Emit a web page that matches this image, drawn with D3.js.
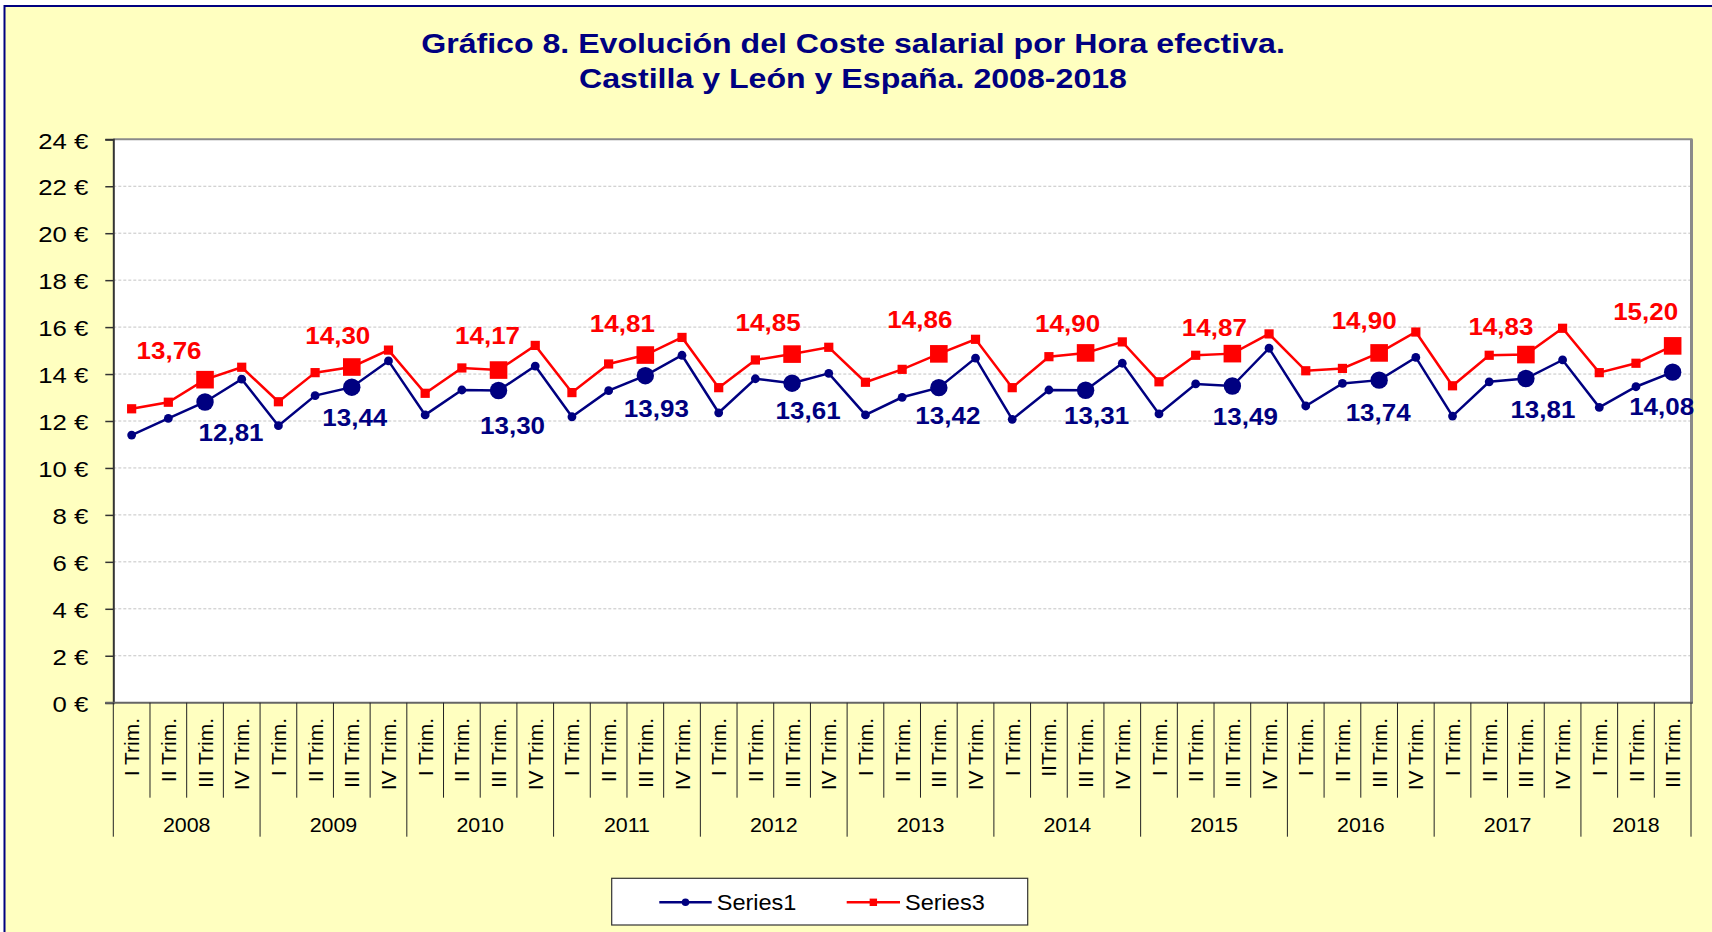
<!DOCTYPE html>
<html>
<head>
<meta charset="utf-8">
<script src="https://cdn.jsdelivr.net/npm/d3@7"></script>
<style>
  html, body { margin: 0; padding: 0; background: #ffffff; }
  svg { display: block; font-family: "Liberation Sans", Arial, sans-serif; }
</style>
</head>
<body>
<svg id="chart" width="1712" height="932"></svg>
<script>
// ---------------- DATA ----------------
const titleLines = [
  "Gráfico 8. Evolución del Coste salarial por Hora efectiva.",
  "Castilla y León y España. 2008-2018"
];
const years = ["2008", "2009", "2010", "2011", "2012", "2013", "2014", "2015", "2016", "2017", "2018"];
const quarterLabels = [
  "I Trim.", "II Trim.", "III Trim.", "IV Trim.",
  "I Trim.", "II Trim.", "III Trim.", "IV Trim.",
  "I Trim.", "II Trim.", "III Trim.", "IV Trim.",
  "I Trim.", "II Trim.", "III Trim.", "IV Trim.",
  "I Trim.", "II Trim.", "III Trim.", "IV Trim.",
  "I Trim.", "II Trim.", "III Trim.", "IV Trim.",
  "I Trim.", "IITrim.", "III Trim.", "IV Trim.",
  "I Trim.", "II Trim.", "III Trim.", "IV Trim.",
  "I Trim.", "II Trim.", "III Trim.", "IV Trim.",
  "I Trim.", "II Trim.", "III Trim.", "IV Trim.",
  "I Trim.", "II Trim.", "III Trim."
];
const quartersPerYear = [4, 4, 4, 4, 4, 4, 4, 4, 4, 4, 3];
const seriesNames = ["Series1", "Series3"];
const series1 = [
  11.40, 12.11, 12.81, 13.78,
  11.80, 13.08, 13.44, 14.56,
  12.26, 13.32, 13.30, 14.34,
  12.18, 13.29, 13.93, 14.80,
  12.35, 13.80, 13.61, 14.03,
  12.26, 13.01, 13.42, 14.68,
  12.07, 13.32, 13.31, 14.46,
  12.30, 13.58, 13.49, 15.10,
  12.64, 13.60, 13.74, 14.71,
  12.21, 13.67, 13.81, 14.60,
  12.58, 13.46, 14.08
];
const series3 = [
  12.52, 12.80, 13.76, 14.29,
  12.82, 14.06, 14.30, 15.02,
  13.18, 14.26, 14.17, 15.22,
  13.21, 14.43, 14.81, 15.56,
  13.42, 14.60, 14.85, 15.14,
  13.65, 14.20, 14.86, 15.48,
  13.42, 14.74, 14.90, 15.37,
  13.67, 14.80, 14.87, 15.71,
  14.14, 14.24, 14.90, 15.79,
  13.50, 14.80, 14.83, 15.95,
  14.06, 14.46, 15.20
];
const yTicks = [0, 2, 4, 6, 8, 10, 12, 14, 16, 18, 20, 22, 24];
const highlightQuarter = 2; // III Trim. points are highlighted and labelled

// ---------------- LAYOUT ----------------
const W = 1712, H = 932;
const plot = { left: 113.3, right: 1691, top: 139.3, bottom: 702.7 };
const NAVY = "#000080", RED = "#ff0000", BG = "#ffffc0";
const FONT = '"Liberation Sans", Arial, sans-serif';
// manual nudges of the data labels (pixels, relative to their point), one per labelled year
const redLabelNudge = [[-36, -21], [-14, -23], [-11, -26], [-23, -23], [-24, -23], [-19, -26],
                       [-18, -21], [-18, -18], [-15, -24], [-25, -20], [-27, -26]];
const navyLabelNudge = [[26, 39], [3, 39], [14, 44], [11, 41], [16, 36], [9, 36],
                        [11, 34], [13, 39], [-1, 41], [17, 39], [-11, 43]];

const svg = d3.select("#chart");

// helper: horizontally stretched text
function stext(parent, x, y, str, sx, opts) {
  const t = parent.append("text")
    .attr("transform", `translate(${x},${y}) scale(${sx},1)`)
    .text(str);
  Object.entries(opts || {}).forEach(([k, v]) => t.attr(k, v));
  return t;
}

// background / frame
svg.append("rect").attr("x", 0).attr("y", 0).attr("width", W).attr("height", H).attr("fill", "#ffffff");
svg.append("rect").attr("x", 4.5).attr("y", 6).attr("width", W + 10).attr("height", H + 10)
  .attr("fill", BG).attr("stroke", NAVY).attr("stroke-width", 2);

// title
const titleG = svg.append("g");
const titleBaselines = [53.3, 88.3];
titleLines.forEach((l, i) => {
  stext(titleG, 853, titleBaselines[i], l, 1.19, {
    "text-anchor": "middle", "font-size": 27, "font-weight": "bold", fill: NAVY
  });
});

// scales
const idx = d3.range(series1.length);
const x = d3.scaleBand().domain(idx).range([plot.left, plot.right]).paddingInner(0).paddingOuter(0);
const cx = i => x(i) + x.bandwidth() / 2;
const y = d3.scaleLinear().domain([0, 24]).range([plot.bottom, plot.top]);

// plot area
svg.append("rect").attr("x", plot.left).attr("y", plot.top)
  .attr("width", plot.right - plot.left).attr("height", plot.bottom - plot.top)
  .attr("fill", "#ffffff");

// grid
svg.append("g").selectAll("line").data(yTicks.filter(t => t > 0 && t < 24)).join("line")
  .attr("x1", plot.left).attr("x2", plot.right)
  .attr("y1", d => y(d)).attr("y2", d => y(d))
  .attr("stroke", "#c4c4c4").attr("stroke-width", 1).attr("stroke-dasharray", "3,2");

// borders (top + right gray)
svg.append("line").attr("x1", plot.left).attr("x2", plot.right + 1.5).attr("y1", plot.top).attr("y2", plot.top)
  .attr("stroke", "#8a8a8a").attr("stroke-width", 2);
svg.append("line").attr("x1", plot.right + 0.5).attr("x2", plot.right + 0.5).attr("y1", plot.top).attr("y2", plot.bottom)
  .attr("stroke", "#8a8a8a").attr("stroke-width", 3);

// y axis
const yAxis = d3.axisLeft(y).tickValues(yTicks).tickSize(8).tickPadding(14.3).tickFormat(d => d + " €");
const yg = svg.append("g").attr("transform", `translate(${plot.left},0)`).call(yAxis);
yg.select(".domain").attr("stroke", "#333").attr("stroke-width", 2);
yg.selectAll(".tick line").attr("stroke", "#333").attr("stroke-width", 1.5);
yg.selectAll(".tick text")
  .attr("font-family", FONT).attr("font-size", 23).attr("fill", "#000")
  .attr("dy", "0.38em")
  .attr("transform", "scale(1.12,1)");

// x axis line
svg.append("line").attr("x1", plot.left - 8).attr("x2", plot.right + 2).attr("y1", plot.bottom).attr("y2", plot.bottom)
  .attr("stroke", "#666").attr("stroke-width", 2);

// category separators
const yearStarts = [];
{ let s = 0; quartersPerYear.forEach(q => { yearStarts.push(s); s += q; }); yearStarts.push(s); }
const boundaries = d3.range(series1.length + 1);
svg.append("g").selectAll("line").data(boundaries).join("line")
  .attr("x1", d => d < series1.length ? x(d) : plot.right)
  .attr("x2", d => d < series1.length ? x(d) : plot.right)
  .attr("y1", plot.bottom)
  .attr("y2", d => yearStarts.includes(d) ? 836.7 : 797.7)
  .attr("stroke", "#222").attr("stroke-width", 1);

// quarter labels (rotated)
svg.append("g").selectAll("text").data(quarterLabels).join("text")
  .attr("transform", (d, i) => `translate(${cx(i)},718) rotate(-90)`)
  .attr("text-anchor", "end").attr("dy", "0.36em")
  .attr("font-size", 21).attr("fill", "#000")
  .text(d => d);

// year labels
const yearG = svg.append("g");
years.forEach((yr, i) => {
  const a = yearStarts[i], b = yearStarts[i + 1];
  const left = x(a), right = b < series1.length ? x(b) : plot.right;
  stext(yearG, (left + right) / 2, 831.7, yr, 1.07, {
    "text-anchor": "middle", "font-size": 20, fill: "#000"
  });
});

// lines
const lineGen = d3.line().x((d, i) => cx(i)).y(d => y(d));
svg.append("path").datum(series1).attr("d", lineGen)
  .attr("fill", "none").attr("stroke", NAVY).attr("stroke-width", 2.5).attr("stroke-linejoin", "miter");
svg.append("path").datum(series3).attr("d", lineGen)
  .attr("fill", "none").attr("stroke", RED).attr("stroke-width", 2.5).attr("stroke-linejoin", "miter");

const isHi = i => i % 4 === highlightQuarter;

// markers
svg.append("g").selectAll("circle").data(series1).join("circle")
  .attr("cx", (d, i) => cx(i)).attr("cy", d => y(d))
  .attr("r", (d, i) => isHi(i) ? 8.7 : 4.4)
  .attr("fill", NAVY);
svg.append("g").selectAll("rect").data(series3).join("rect")
  .attr("x", (d, i) => cx(i) - (isHi(i) ? 8.8 : 4.6))
  .attr("y", (d, i) => y(d) - (isHi(i) ? 8.8 : 4.6))
  .attr("width", (d, i) => isHi(i) ? 17.6 : 9.2)
  .attr("height", (d, i) => isHi(i) ? 17.6 : 9.2)
  .attr("fill", RED);

// data labels
const fmt = v => d3.format(".2f")(v).replace(".", ",");
const labG = svg.append("g");
idx.filter(isHi).forEach((i, k) => {
  const rn = redLabelNudge[k] || [-20, -23];
  const nn = navyLabelNudge[k] || [10, 39];
  stext(labG, cx(i) + rn[0], y(series3[i]) + rn[1], fmt(series3[i]), 1.13, {
    "text-anchor": "middle", "font-size": 23, "font-weight": "bold", fill: RED
  });
  stext(labG, cx(i) + nn[0], y(series1[i]) + nn[1], fmt(series1[i]), 1.13, {
    "text-anchor": "middle", "font-size": 23, "font-weight": "bold", fill: NAVY
  });
});

// legend
const lg = svg.append("g");
lg.append("rect").attr("x", 611.7).attr("y", 878.3).attr("width", 416).attr("height", 46.7)
  .attr("fill", "#ffffff").attr("stroke", "#333").attr("stroke-width", 1.2);
const legendItems = [
  { name: seriesNames[0], color: NAVY, shape: "circle", x0: 659.3, x1: 711.7, tx: 716.7 },
  { name: seriesNames[1], color: RED, shape: "square", x0: 846.7, x1: 900, tx: 905 }
];
legendItems.forEach(it => {
  const ly = 902.3;
  lg.append("line").attr("x1", it.x0).attr("x2", it.x1).attr("y1", ly).attr("y2", ly)
    .attr("stroke", it.color).attr("stroke-width", 2.5);
  const mx = (it.x0 + it.x1) / 2;
  if (it.shape === "circle") {
    lg.append("circle").attr("cx", mx).attr("cy", ly).attr("r", 3.8).attr("fill", it.color);
  } else {
    lg.append("rect").attr("x", mx - 3.7).attr("y", ly - 3.7).attr("width", 7.4).attr("height", 7.4).attr("fill", it.color);
  }
  stext(lg, it.tx, 910, it.name, 1.07, { "font-size": 22, fill: "#000" });
});
</script>
</body>
</html>
